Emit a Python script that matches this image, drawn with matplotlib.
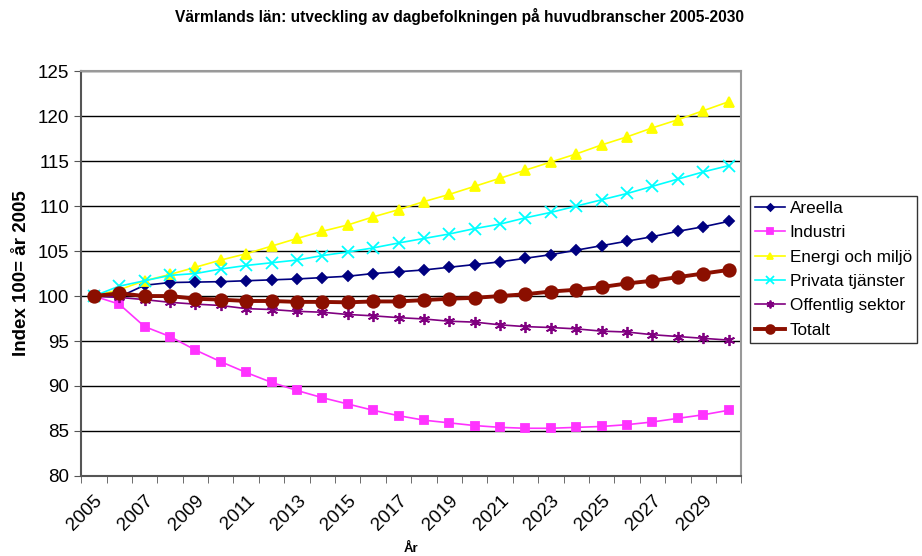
import matplotlib.pyplot as plt
import numpy as np

plt.rcParams["font.family"] = ["Liberation Sans", "DejaVu Sans"]

years = list(range(2005, 2031))

areella = [100.0, 99.9, 101.2, 101.5, 101.55, 101.6, 101.7, 101.8, 101.9, 102.05,
           102.2, 102.5, 102.7, 102.9, 103.2, 103.5, 103.8, 104.2, 104.6, 105.1,
           105.6, 106.1, 106.6, 107.2, 107.7, 108.3]
industri = [100.0, 99.1, 96.6, 95.5, 94.0, 92.7, 91.5, 90.4, 89.5, 88.7,
            88.0, 87.3, 86.7, 86.2, 85.9, 85.6, 85.4, 85.3, 85.3, 85.4,
            85.5, 85.7, 86.0, 86.4, 86.8, 87.3]
energi = [100.0, 100.7, 101.7, 102.4, 103.2, 104.0, 104.7, 105.55, 106.4, 107.2,
          107.9, 108.8, 109.6, 110.5, 111.3, 112.2, 113.1, 114.0, 114.9, 115.8,
          116.8, 117.7, 118.7, 119.6, 120.6, 121.6]
privata = [100.0, 101.1, 101.7, 102.3, 102.5, 103.0, 103.4, 103.7, 104.0, 104.5,
           104.9, 105.35, 105.9, 106.4, 106.9, 107.5, 108.0, 108.7, 109.3, 110.0,
           110.7, 111.4, 112.2, 113.0, 113.8, 114.5]
offentlig = [100.0, 99.85, 99.6, 99.3, 99.1, 98.95, 98.6, 98.5, 98.3, 98.2,
             97.95, 97.8, 97.6, 97.45, 97.2, 97.1, 96.8, 96.6, 96.5, 96.35,
             96.1, 96.0, 95.7, 95.5, 95.3, 95.1]
totalt = [100.0, 100.3, 100.0, 100.0, 99.7, 99.6, 99.45, 99.45, 99.35, 99.35,
          99.3, 99.4, 99.4, 99.55, 99.7, 99.8, 100.0, 100.2, 100.5, 100.7,
          101.0, 101.4, 101.7, 102.1, 102.5, 102.9]

series = [
    ("Areella", areella, "#000080", "D", 5, 1.2),
    ("Industri", industri, "#FF33FF", "s", 6, 1.2),
    ("Energi och miljö", energi, "#FFFF00", "^", 7, 1.2),
    ("Privata tjänster", privata, "#00FFFF", "x", 8, 1.2),
    ("Offentlig sektor", offentlig, "#800080", (6, 2, 0), 8, 1.2),
    ("Totalt", totalt, "#8B0F00", "o", 9, 2.8),
]

fig = plt.figure(figsize=(9.22, 5.56), dpi=100)
ax = fig.add_axes([0.088, 0.144, 0.716, 0.728])

x = np.arange(len(years))
for name, vals, col, mk, ms, lw in series:
    ax.plot(x, vals, color=col, marker=mk, markersize=ms, linewidth=lw,
            markeredgecolor=col, markeredgewidth=1.3, label=name)

ax.set_xlim(-0.5, len(years) - 0.5)
ax.set_ylim(80, 125)
ax.set_yticks(np.arange(80, 126, 5))
ax.yaxis.grid(True, color="black", linewidth=1)
ax.set_axisbelow(True)

ax.set_xticks(x[::2])
ax.set_xticklabels([str(y) for y in years[::2]], rotation=45, ha="right",
                   rotation_mode="anchor", fontsize=13.5)
ax.set_xticks(np.arange(-0.5, len(years), 1), minor=True)
ax.tick_params(axis="x", which="major", length=0, pad=12)
ax.tick_params(axis="x", which="minor", length=5, direction="out", color="#555555")
ax.tick_params(axis="y", labelsize=13.5, length=5, color="#555555")

for s in ["top", "right"]:
    ax.spines[s].set_color("#999999")
    ax.spines[s].set_linewidth(1.5)
for s in ["left", "bottom"]:
    ax.spines[s].set_color("#555555")
    ax.spines[s].set_linewidth(1.5)

ax.set_ylabel("Index 100= år 2005", fontsize=13.5, fontweight="bold", labelpad=6)
ax.set_xlabel("År", fontsize=9.5, fontweight="bold", labelpad=6)
fig.suptitle("Värmlands län: utveckling av dagbefolkningen på huvudbranscher 2005-2030",
             fontsize=11.2, fontweight="bold", x=0.498, y=0.985)

leg = fig.legend(loc="upper left", bbox_to_anchor=(0.813, 0.648), fontsize=12.3,
                 frameon=True, fancybox=False, edgecolor="black", handlelength=1.8,
                 borderpad=0.3, labelspacing=0.55, handletextpad=0.25,
                 markerscale=0.7, borderaxespad=0)
leg.get_frame().set_linewidth(1.0)

fig.savefig("out.png", dpi=100)
